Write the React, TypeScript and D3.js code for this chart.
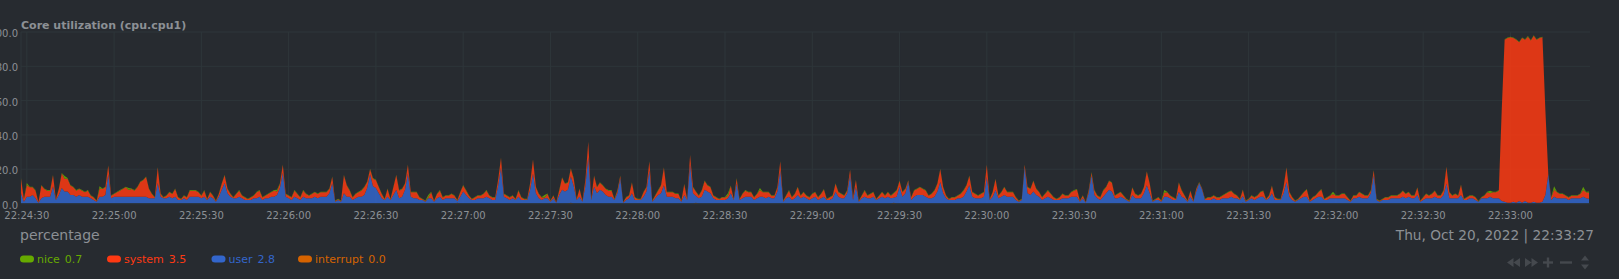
import React from "react";
import * as d3 from "d3";

// ---------- DATA ----------
const START = new Date(2022, 9, 20, 22, 24, 28); // first sample, 1 s per sample
const chartTitle = "Core utilization (cpu.cpu1)";
const unitsLabel = "percentage";
const dateLabel = "Thu, Oct 20, 2022 | 22:33:27";
const yTickValues = [0, 20, 40, 60, 80, 100];
const seriesNames = ["nice", "system", "user", "interrupt"];
const seriesColors = ["#66AA00", "#FE3912", "#3366CC", "#D66300"];
const legendValues = ["0.7", "3.5", "2.8", "0.0"];
const stackOrder = ["interrupt", "user", "system", "nice"]; // bottom -> top

const user = [
  6,1,4,4,5,3,0.5,3,4,4,4,10,2,5,9,7,7,5,5,4,
  5,4,4,4,3,2,1,4,4,5,17,3,4,4,4,4,4,4,4,4,
  4,4,4,4,3,3,3,12,4,3,3,4,3,4,2,2,3,2,4,4,
  4,4,3,4,2,4,3,1,4,8,12,6,4,3,3,4,3,2,2,2,
  3,3,4,2,3,3,4,4,5,9,18,4,3,2,4,3,2,4,3,3,
  3,4,3,4,4,4,6,12,1,2,1,6,4,4,2,3,4,4,5,9,
  17,10,9,6,3,2,4,2,5,8,3,4,8,17.5,4,3,3,2,2,1,
  3,3,1,3,4,2,3,3,3,3,1,4,7,5,3,2,2,3,3,3,
  4,3,2,2,10,21,4,3,2,3,2,4,2,2,2,8,17.5,6,3,2,
  3,3,1,3,0.5,5,8,7,8,15.5,10,2,4,1,10,27,2,9.7,6,8,
  7,5,4,4,2,6,14.6,0.5,2,3,6,2,2,2,4,7,19.5,1,3,5,
  6,10.7,4,4,4,3,3,1,5,2,23,6,4,3,4,8,7,6,3,2,
  2,2,2,3,6,2,11.7,2,3,4,4,4,2,3,4,4,3,4,3,3,
  7,19.5,1,3,4,2,3,5,3,4,3,2,3,4,2,3,4,2,2,3,
  6.8,4,3,3,6,16.5,2,9.7,1,3,4,3,3,4,2,3,4,3,4,3,
  3,4,9.7,4,6,12.6,2,4,5,5,5,4,3,3,4,7,12.6,6,3,2,
  2,2,3,3,4,7,10.7,4,3,3,3,4,15.5,2,4,7.8,3,4,5,4,
  4,4,2,1,2,21,6,5,7,5,4,2,3,4,3,2,2,2,3,3,
  3,4,4,4,1,3,0.5,6,16.5,5,3,2,4,6,8,7,3,3,4,3,
  2,1,5,3,3,3,6,10.7,6,1,2,2,1,4,4,3,2,2,6.8,4,
  3,1,4,1,7,12,8,2,2,2,3,2,2,3,3,3,4,3,3,2,
  4,1,2,3,2,3,4,4,2,3,6,2,2,2,6,12.6,4,2,1,2,
  3,4,4,1,2,3,4,4,2,2,3,3,3,3,3,3,2,1,3,3,
  4,3,3,3,6,16.5,2,1,2,2,2,3,3,3,3,4,3,4,3,3,
  5,1,2,3,3,3,4,3,3,5,11.7,3,3,3,3,5,2,2,3,3,
  2,1,3,3,3,4,3,3,3,1.5,1,0.5,0.5,1,0.5,1.5,0.5,1.5,0.5,0.5,
  1,0.5,0.5,1,5,17,2,4,3,3,3,3,2,3,3,3,3,4,3,2.8,
];

const system = [
  8.5,1.5,6.8,5.5,4.5,4.5,0.2,7.5,4.5,3.5,3.5,6.5,0.5,3.5,8.5,7.5,7.5,5.5,4.5,3.5,
  3.5,3.5,2.5,3.5,1.5,1.5,0.5,4.8,4.5,4.5,5,1.5,1.5,2.5,3.5,4.5,5.5,3.8,4.5,3.5,
  5.5,8.5,9.5,11.5,5.5,2.5,0.5,9,1.5,0.5,1.5,2.5,2.5,4.5,1.5,0.5,1.5,1.5,3.5,3.5,
  3.5,2.5,1.5,3.5,0.5,2.5,1.5,0.5,1.5,3.5,4.5,2.5,1.5,0.5,2.5,3.5,1.5,1.5,0.5,1.5,
  1.5,3.5,3.5,1.5,1.5,2.5,2.5,3.5,2,2.5,4.5,1.5,1.5,1.5,3.5,2.5,1.5,3.5,2.5,1.5,
  2.5,2.5,2.5,2.5,2.5,2.5,2.5,3.5,0.5,0.5,0.5,10.5,6.5,3.5,1.5,2.5,2.5,3.5,4.5,3.5,
  3,4.5,4.5,3.5,2.5,0.5,4.5,0.5,4.5,8.5,4.5,4.5,3.5,5,2.5,3.5,3.5,1.5,0.5,0.5,
  0.5,3.5,0.5,2.5,3.5,1.5,1.5,1.5,2.5,1.5,0.5,2.5,3.5,2.5,1.5,0.5,1.5,1.5,1.5,2.5,
  3.5,1.5,1.5,1.5,3.5,5.5,1.5,1.5,1.5,1.5,0.5,3.5,1.5,0.5,0.5,3.5,8,3.5,2.5,1.5,
  0.5,2.5,0.5,1.5,0.2,2.5,7,4.5,4.1,4.4,4.5,0.5,4.5,0.5,3.5,8.9,0.5,6.3,3.5,4.1,
  3.5,3.5,3.5,3.5,0.5,1.5,1.4,0.2,1.5,1.5,6.1,1.5,0.5,0.5,2.5,2.5,5,0.5,1.5,2.5,
  4.5,10.2,2.5,2.5,2.5,2.5,2.5,0.5,6.2,0.5,5.1,3.5,2.5,1.5,3.5,5.1,3.5,3.5,1.5,1.5,
  0.5,1.5,1.5,1.5,4.2,0.5,2.8,0.5,2.5,3.5,2.5,2.5,1.5,2.5,3.8,2.5,3.5,2.5,1.5,1.5,
  2.5,5,0.5,1.5,3.5,1.5,2.5,4.5,1.5,2.5,1.5,1.5,2.5,2.5,1.5,2.5,4.2,0.5,1.5,1.5,
  4.7,2.5,2.5,1.5,1.5,3,1.5,3.8,0.5,1.5,3.5,1.5,2.5,2.5,0.5,1.5,2.5,1.5,2.5,1.5,
  2.5,3.5,3.4,2.5,2.5,0.7,1.5,3.5,3.5,4.5,3.5,3.5,1.5,2.5,3.5,4.5,7.3,3.5,1.5,0.5,
  1.5,1.5,1.5,2.5,3.5,3.5,5.3,2.5,2.5,1.5,2.5,2.5,7,0.5,2.5,6.3,1.5,2.5,4.5,2.5,
  2.5,2.5,1.5,0.5,0.5,1.5,3.5,3.5,6.1,3.5,2.5,1.5,2.5,3.5,2.5,1.5,0.5,1.5,2.5,1.5,
  1.5,2.5,3.5,4.2,0.5,1.5,0.2,1.5,1.5,2.5,1.5,1.5,3.5,3.5,5.1,5.1,1.5,2.5,2.5,1.5,
  0.5,0.5,4.2,2.5,1.5,2.5,3.5,7.8,5.5,0.5,0.5,1.5,0.5,2.3,2.5,1.5,1.5,0.5,5.3,3.5,
  1.5,0.5,3.3,0.5,1.5,0.3,0.7,0.5,1.5,1.5,1.5,1.5,1.5,1.5,2.5,3.5,3.3,2.5,1.5,0.5,
  3.5,0.5,0.5,1.5,1.5,1.5,2.5,3.3,0.5,1.5,4.2,1.5,0.5,0.5,3.5,8.3,2.5,1.5,0.5,0.5,
  1.5,2.5,4.2,0.5,1.5,1.5,2.5,4.2,0.5,1.5,1.5,2.5,1.5,1.5,2.5,2.5,1.5,0.5,1.5,1.5,
  2.5,2.5,1.5,1.5,1.5,2.8,0.5,0.5,0.5,1.5,1.5,1.5,1.5,1.5,2.5,3.3,2.5,2.5,1.5,1.5,
  4.2,0.5,1.5,2.5,1.5,2.5,3.3,1.5,1.5,2.5,9.6,3.5,1.5,2.5,1.5,5.8,0.5,1.5,1.5,1.5,
  1.5,0.2,0.5,1.5,3.5,2,3.5,3.5,4.5,53,94.5,96,96.4,95.5,95,92.5,96,94,96.8,94.5,
  96.8,95,96,96,49.5,0.3,1.5,4,3.5,2.5,2.5,1.5,1.5,1.5,1.5,1.5,2.5,3.8,3.5,3.5,
];

const nice = [
  0.3,0.3,1.2,0.3,0.3,0.3,0.2,0.3,0.3,0.3,0.3,0.3,0.3,0.3,0.3,1.5,0.3,0.3,0.3,0.3,
  0.3,0.3,0.3,0.3,0.3,0.3,0.3,1.2,0.3,0.3,0.3,0.3,0.3,0.3,0.3,0.3,0.3,1.2,0.3,0.3,
  0.3,0.3,0.3,0.3,0.3,0.3,0.3,0.3,0.3,0.3,0.3,0.3,0.3,0.3,0.3,0.3,0.3,0.3,0.3,0.3,
  0.3,0.3,0.3,0.3,0.3,0.3,0.3,0.3,0.3,0.3,0.3,0.3,0.3,0.3,0.3,0.3,0.3,0.3,0.3,0.3,
  0.3,0.3,0.3,0.3,0.3,0.3,0.3,0.3,1.0,0.3,0.3,0.3,0.3,0.3,0.3,0.3,0.3,0.3,0.3,0.3,
  0.3,0.3,0.3,0.3,0.3,0.3,0.3,0.3,0.3,0.3,0.3,0.3,0.3,0.3,0.3,0.3,0.3,0.3,0.3,0.3,
  0.3,0.3,0.3,0.3,0.3,0.3,0.3,0.3,0.3,0.3,0.3,0.3,0.3,0.3,0.3,0.3,0.3,0.3,0.3,0.3,
  1.5,0.3,0.3,0.3,0.3,0.3,0.3,0.3,0.3,0.3,0.3,0.3,0.3,0.3,0.3,0.3,0.3,0.3,0.3,0.3,
  0.3,0.3,0.3,0.3,0.3,0.3,0.3,0.3,0.3,0.3,0.3,0.3,0.3,0.3,0.3,0.3,0.3,0.3,0.3,0.3,
  1.5,0.3,0.3,0.3,0.2,0.3,0.3,0.3,0.3,0.3,0.3,0.3,0.3,0.3,0.3,0.3,0.3,0.3,0.3,0.3,
  0.3,0.3,0.3,0.3,0.3,0.3,0.3,0.2,0.3,0.3,0.3,0.3,0.3,0.3,0.3,0.3,0.3,0.3,0.3,0.3,
  0.3,0.3,0.3,0.3,0.3,0.3,0.3,0.3,0.3,0.3,0.3,0.3,0.3,0.3,0.3,0.3,0.3,0.3,0.3,0.3,
  0.3,0.3,0.3,1.5,0.3,0.3,0.3,0.3,0.3,0.3,0.3,0.3,0.3,0.3,1.2,0.3,0.3,0.3,0.3,0.3,
  0.3,0.3,0.3,0.3,0.3,0.3,0.3,0.3,0.3,0.3,0.3,0.3,0.3,0.3,0.3,0.3,0.3,0.3,0.3,0.3,
  0.3,0.3,0.3,0.3,0.3,0.3,0.3,0.3,0.3,0.3,0.3,0.3,0.3,0.3,0.3,0.3,0.3,0.3,0.3,0.3,
  0.3,0.3,0.3,0.3,0.3,0.2,0.3,0.3,0.3,0.3,0.3,0.3,0.3,0.3,0.3,0.3,0.3,0.3,0.3,0.3,
  0.3,0.3,0.3,0.3,0.3,0.3,0.3,0.3,0.3,0.3,0.3,0.3,0.3,0.3,0.3,0.3,0.3,0.3,0.3,0.3,
  0.3,0.3,0.3,0.3,0.3,0.2,0.3,0.3,0.3,0.3,0.3,0.3,0.3,0.3,0.3,0.3,0.3,0.3,0.3,0.3,
  0.3,0.3,0.3,0.3,0.3,0.3,0.2,0.3,0.3,0.3,0.3,0.3,0.3,0.3,0.3,0.3,0.3,0.3,0.3,0.3,
  0.3,0.3,0.3,0.3,0.3,0.3,0.3,0.3,0.3,0.3,0.3,0.3,0.3,1.5,0.3,0.3,0.3,0.3,0.3,0.3,
  0.3,0.3,0.3,0.3,0.3,0.2,0.2,0.3,0.3,0.3,0.3,0.3,0.3,0.3,0.3,0.3,0.3,0.3,0.3,0.3,
  0.3,0.3,0.3,0.3,0.3,0.3,0.3,0.3,0.3,0.3,0.3,0.3,0.3,0.3,0.3,0.3,0.3,0.3,0.3,0.3,
  0.3,0.3,0.3,0.3,0.3,0.3,0.3,0.3,0.3,0.3,0.3,1.3,0.3,0.3,0.3,0.3,0.3,0.3,0.3,0.3,
  0.3,0.3,0.3,0.3,0.3,0.3,0.3,0.3,0.3,0.3,0.3,0.3,0.3,0.3,0.3,0.3,0.3,0.3,0.3,0.3,
  0.3,0.3,0.3,0.3,0.3,0.3,0.3,0.3,0.3,0.3,0.3,0.3,0.3,0.3,0.3,0.3,0.3,0.3,0.3,0.3,
  0.3,0.2,0.3,0.3,0.3,1.5,0.3,0.3,0.3,0.3,0.3,0.3,0.3,0.3,0.3,0.3,0.3,0.3,0.3,0.3,
  0.3,0.3,0.3,0.3,0.3,0.2,0.3,2.0,0.3,0.3,0.3,0.3,0.3,0.3,0.3,0.3,0.3,2.0,0.3,0.7,
];

const interrupt = [
  0,0,0,0,0,0,0,0,0,0,0,0,0,0,0,0,0,0,0,0,
  0,0,0,0,0,0,0,0,0,0,0,0,0,0,0,0,0,0,0,0,
  0,0,0,0,0,0,0,0,0,0,0,0,0,0,0,0,0,0,0,0,
  0,0,0,0,0,0,0,0,0,0,0,0,0,0,0,0,0,0,0,0,
  0,0,0,0,0,0,0,0,0,0,0,0,0,0,0,0,0,0,0,0,
  0,0,0,0,0,0,0,0,0,0,0,0,0,0,0,0,0,0,0,0,
  0,0,0,0,0,0,0,0,0,0,0,0,0,0,0,0,0,0,0,0,
  0,0,0,0,0,0,0,0,0,0,0.4,0,0,0,0,0,0,0,0,0,
  0,0,0,0,0,0,0,0,0,0,0,0,0,0,0,0,0,0,0,0,
  0,0,0,0,0,0,0,0,0,0.4,0,0,0,0,0,0,0,0,0,0,
  0,0,0,0,0,0,0,0,0,0,0,0,0,0,0,0,0,0,0,0,
  0,0,0,0,0,0,0,0,0,0,0,0,0.4,0,0,0,0,0,0,0,
  0,0,0,0,0,0,0,0,0,0,0,0,0,0,0,0,0,0,0,0,
  0,0,0,0,0,0,0,0,0,0,0,0,0,0,0,0,0,0,0,0,
  0,0,0,0,0,0,0,0,0,0,0,0,0,0,0,0,0,0,0,0,
  0.4,0,0,0,0,0,0,0,0,0,0,0,0,0,0,0,0,0,0,0,
  0,0,0,0,0,0,0,0,0,0,0,0,0,0,0,0,0,0,0,0,
  0,0,0,0,0,0,0,0,0,0,0,0,0,0,0,0,0,0,0,0,
  0,0,0,0,0,0,0,0,0,0,0,0,0,0,0,0,0,0,0,0,
  0,0,0,0,0,0,0,0,0,0,0,0,0,0,0,0,0,0,0,0,
  0,0,0,0,0,0,0,0,0,0,0,0,0,0,0,0,0,0,0,0,
  0.4,0,0,0,0,0,0,0,0,0,0,0,0,0,0,0,0,0,0,0,
  0,0,0,0,0,0,0,0,0,0,0,0,0,0,0,0,0,0,0,0,
  0,0,0,0,0,0,0,0,0,0,0,0,0,0,0,0,0,0,0,0,
  0,0,0,0,0,0,0,0,0,0,0,0,0,0,0,0,0,0,0,0,
  0,0,0,0,0,0,0,0,0,0,0,0,0,0,0,0,0,0,0,0,
  0,0,0,0,0,0,0,0,0,0,0,0,0,0,0,0,0,0,0,0,
];

// ---------- COMPONENT ----------
const FONT = "'DejaVu Sans', sans-serif";
const BG = "#272b30";
const GRID = "#2e363a";
const TEXT = "#8c9095";

export default function App() {
  const W = 1619;
  const H = 279;
  const left = 21;
  const right = 1589;
  const top = 32;
  const bottom = 203.5;

  const n = Math.min(user.length, system.length, nice.length, interrupt.length);
  const rows = d3.range(n).map((i) => ({
    t: new Date(START.getTime() + i * 1000),
    interrupt: interrupt[i],
    user: user[i],
    system: system[i],
    nice: nice[i],
  }));

  const x = d3
    .scaleTime()
    .domain([rows[0].t, rows[n - 1].t])
    .range([left, right]);
  const y = d3.scaleLinear().domain([0, 100]).range([bottom, top]);

  const stacked = d3.stack<any>().keys(stackOrder)(rows);
  const area = d3
    .area<any>()
    .x((d) => x(d.data.t))
    .y0((d) => y(d[0]))
    .y1((d) => y(d[1]))
    .curve(d3.curveLinear);

  const colorOf = (k: string) => seriesColors[seriesNames.indexOf(k)];
  const xTicks = x.ticks(d3.timeSecond.every(30) as any);
  const fmtTime = d3.timeFormat("%H:%M:%S");
  const fmtY = d3.format(".1f");

  const legendX = [20, 107, 211.5, 298];
  const iconColor = "#45494e";

  return (
    <div style={{ position: "absolute", left: 0, top: 0 }}>
      <svg width={W} height={H} style={{ display: "block" }} fontFamily={FONT}>
        <rect x={0} y={0} width={W} height={H} fill={BG} />

        <text x={21} y={28.5} fontSize={11} fontWeight="bold" fill={TEXT}>
          {chartTitle}
        </text>

        {/* grid */}
        {yTickValues.map((v) => (
          <line key={"h" + v} x1={left} x2={right + 1} y1={y(v)} y2={y(v)} stroke={GRID} strokeWidth={1} />
        ))}
        {xTicks.map((t) => (
          <line key={"v" + +t} x1={x(t)} x2={x(t)} y1={top} y2={bottom} stroke={GRID} strokeWidth={1} />
        ))}
        <line x1={left} x2={left} y1={top} y2={bottom} stroke={GRID} strokeWidth={1} />

        {/* stacked areas */}
        {stacked.map((s) => (
          <path key={s.key} d={area(s as any) || ""} fill={colorOf(s.key as string)} fillOpacity={0.85} />
        ))}

        <line x1={left} x2={right + 1} y1={bottom + 0.5} y2={bottom + 0.5} stroke="#2a3034" strokeWidth={1.5} />

        {/* y labels */}
        {yTickValues.map((v) => (
          <text key={"yl" + v} x={18} y={y(v) + 1.5} fontSize={10} fill={TEXT} textAnchor="end" dominantBaseline="central">
            {fmtY(v)}
          </text>
        ))}

        {/* x labels */}
        {xTicks.map((t) => (
          <text key={"xl" + +t} x={x(t)} y={215} fontSize={10} fill={TEXT} textAnchor="middle" dominantBaseline="central">
            {fmtTime(t)}
          </text>
        ))}

        <text x={20} y={239.5} fontSize={14} fill={TEXT}>
          {unitsLabel}
        </text>
        <text x={1594} y={239.5} fontSize={13.7} fill={TEXT} textAnchor="end">
          {dateLabel}
        </text>

        {/* legend */}
        {seriesNames.map((name, i) => (
          <g key={name}>
            <rect x={legendX[i]} y={255.5} width={14} height={7} rx={3.5} fill={seriesColors[i]} />
            <text x={legendX[i] + 17} y={263} fontSize={11} fill={seriesColors[i]}>
              {name}
              <tspan dx={5}>{legendValues[i]}</tspan>
            </text>
          </g>
        ))}

        {/* navigation icons */}
        <g fill={iconColor}>
          <path d="M1513.5,258 L1513.5,267 L1507,262.5 Z M1520,258 L1520,267 L1513.5,262.5 Z" />
          <path d="M1525,258 L1525,267 L1531.5,262.5 Z M1531.5,258 L1531.5,267 L1538,262.5 Z" />
          <rect x={1543} y={261.3} width={10} height={2.4} />
          <rect x={1546.8} y={257.5} width={2.4} height={10} />
          <rect x={1560} y={261.3} width={12} height={2.4} />
          <path d="M1581,260.5 L1589,260.5 L1585,255.5 Z M1581,264.5 L1589,264.5 L1585,269.5 Z" />
        </g>
      </svg>
    </div>
  );
}
